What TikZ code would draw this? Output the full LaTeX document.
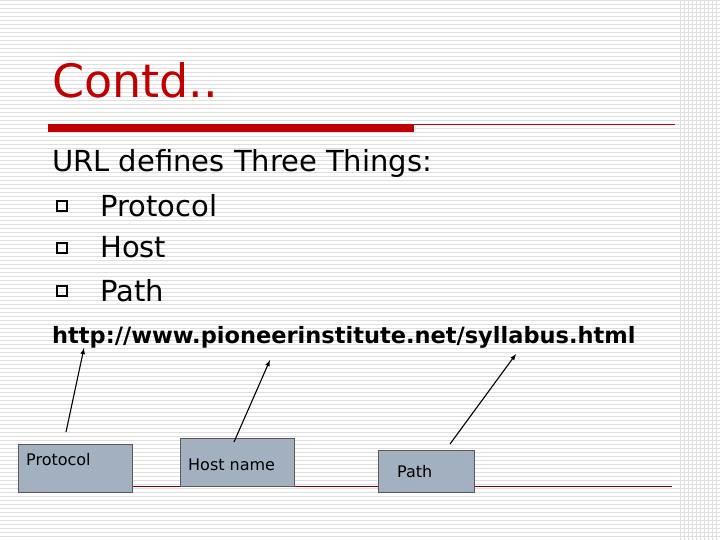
\documentclass[tikz,border=0pt]{standalone}
\usepackage{fontspec}
\setmainfont{DejaVu Sans}
\definecolor{tred}{RGB}{192,0,0}
\definecolor{boxg}{RGB}{163,176,192}
\definecolor{stripe}{RGB}{222,222,222}
\begin{document}
\begin{tikzpicture}[x=1pt,y=-1pt,
  lbl/.style={anchor=base west,inner sep=0},
  bx/.style={draw=gray!70!black,fill=boxg,inner sep=0},
  arr/.style={-latex,line width=1.1pt}]
\useasboundingbox (0,0) rectangle (720,540);
\fill[white] (0,0) rectangle (720,540);
\foreach \i in {0,4,...,540} \draw[stripe,line width=0.8pt] (0,\i) -- (720,\i);
\foreach \i in {680,684,...,720} \draw[stripe,line width=0.8pt] (\i,0) -- (\i,540);
\node[lbl,text=tred,font=\fontsize{46}{50}\selectfont] (title) at (52,98) {Contd..};
\fill[tred] (48,124) rectangle (414,132);
\draw[tred,line width=0.8pt] (414,124) -- (675,124);
\node[lbl,font=\fontsize{29}{34}\selectfont] (t1) at (52,172) {URL defines Three Things:};
\foreach \y/\t/\n in {216/Protocol/b1,258/Host/b2,301/Path/b3}{
  \draw[line width=1.2pt] (57,\y-15) rectangle (67,\y-5);
  \node[lbl,font=\fontsize{29}{34}\selectfont] (\n) at (100,\y) {\t};
}
\node[lbl,font=\bfseries\fontsize{22.5}{26}\selectfont] (url) at (52,343) {http://www.pioneerinstitute.net/syllabus.html};
\draw[tred!70!black,line width=0.6pt] (132,486) -- (672,486);
\node[bx,minimum width=114pt,minimum height=48pt] (p) at (75,468) {};
\node[lbl,font=\fontsize{16}{18}\selectfont] at (26,465) {Protocol};
\node[bx,minimum width=114pt,minimum height=48pt] (h) at (237,462) {};
\node[lbl,font=\fontsize{16}{18}\selectfont] at (188,470) {Host name};
\node[bx,minimum width=96pt,minimum height=42pt] (pa) at (426,471) {};
\node[lbl,font=\fontsize{16}{18}\selectfont] at (397,477) {Path};
\coordinate (a1) at (66,432); \coordinate (e1) at (84,348);
\coordinate (a2) at (234,442); \coordinate (e2) at (270,360);
\coordinate (a3) at (450,444); \coordinate (e3) at (516,354);
\draw[arr] (a1) -- (e1);
\draw[arr] (a2) -- (e2);
\draw[arr] (a3) -- (e3);
\end{tikzpicture}
\end{document}
